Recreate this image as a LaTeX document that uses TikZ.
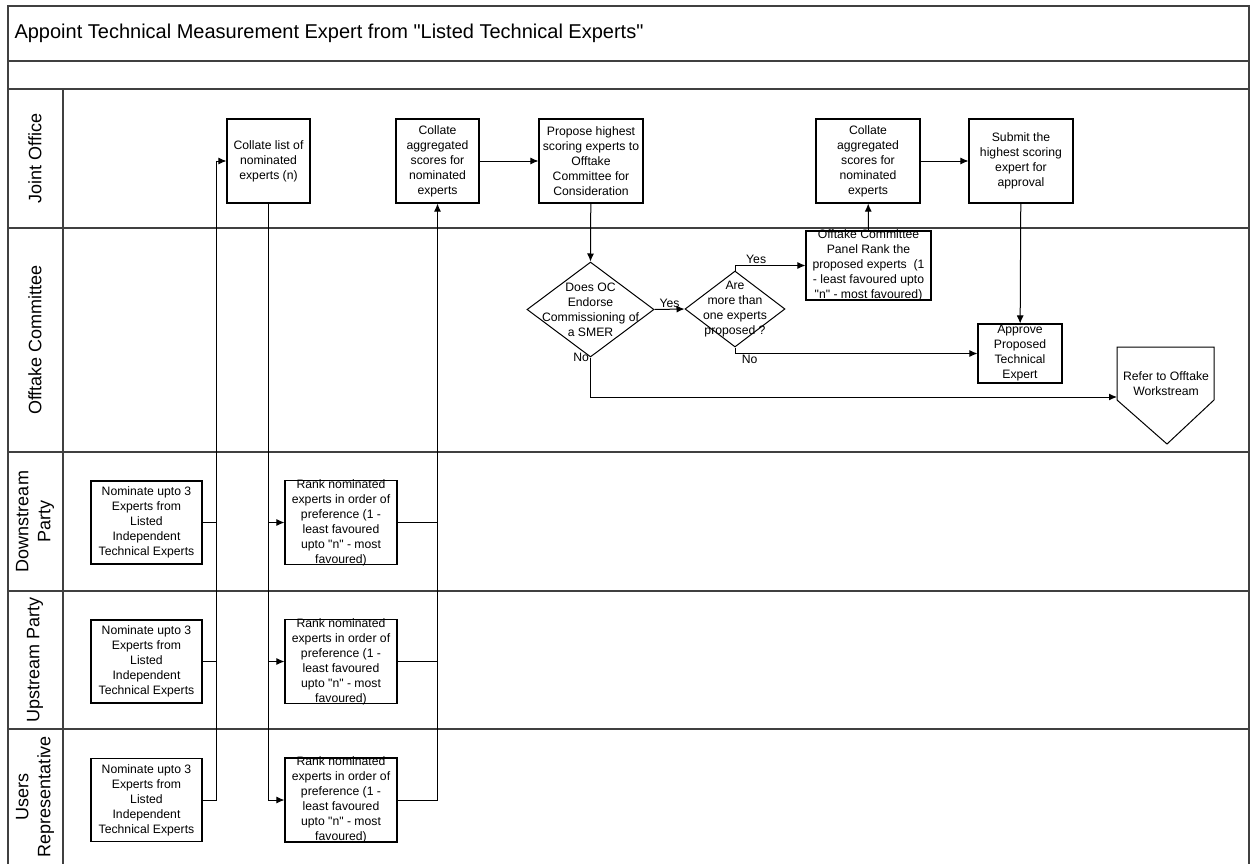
\documentclass[tikz,border=0pt]{standalone}
\usepackage{fontspec}
\setmainfont{Liberation Sans}[Ligatures=TeXOff]
\usetikzlibrary{arrows.meta,shapes.geometric}

\begin{document}
\begin{tikzpicture}[x=1pt,y=-1pt,
    box/.style={draw,line width=1.1pt,inner sep=0},
    dec/.style={draw,diamond,line width=1pt,inner sep=0},
    txt/.style={font=\fontsize{12.2}{15}\selectfont,align=center,inner sep=0},
    lane/.style={font=\fontsize{18}{22}\selectfont,align=center,rotate=90},
    con/.style={line width=1pt},
    arr/.style={con,-{Latex[length=8pt,width=7pt]}},
    lbl/.style={font=\fontsize{12.2}{14}\selectfont,inner sep=1pt}]
  \useasboundingbox (0,0) rectangle (1250,864);
  % pool and lanes
  \draw[line width=1.6pt,black!75] (8,864) -- (8,6) -- (1249,6) -- (1249,864);
  \foreach \y in {61,89,228,452,591,729}
    \draw[line width=1.6pt,black!75] (8,\y) -- (1249,\y);
  \draw[line width=1.6pt,black!75] (63,89) -- (63,864);
  \node[anchor=west,font=\fontsize{20}{24}\selectfont] (title) at (11,33) {Appoint Technical Measurement Expert from "Listed Technical Experts"};
  \node[lane] (jo) at (35,158.5) {Joint Office};
  \node[lane] (oc) at (35,340) {Offtake Committee};
  \node[lane] (ds) at (35,521.5) {Downstream\\Party};
  \node[lane] (us) at (35,660) {Upstream Party};
  \node[lane] (ur) at (35,796.5) {Users\\Representative};
  % joint office
  \node[box,minimum width=83pt,minimum height=84pt,label={[txt]center:Collate list of\\nominated\\experts (n)}] (C1) at (268.5,161) {};
  \node[box,minimum width=83pt,minimum height=84pt,label={[txt]center:Collate\\aggregated\\scores for\\nominated\\experts}] (C2) at (437.5,161) {};
  \node[box,minimum width=104pt,minimum height=84pt,label={[txt]center:Propose highest\\scoring experts to\\Offtake\\Committee for\\Consideration}] (P) at (591,161) {};
  \node[box,minimum width=104pt,minimum height=84pt,label={[txt]center:Collate\\aggregated\\scores for\\nominated\\experts}] (C3) at (868,161) {};
  \node[box,minimum width=104pt,minimum height=84pt,label={[txt]center:Submit the\\highest scoring\\expert for\\approval}] (S) at (1021,161) {};
  % offtake committee
  \node[dec,minimum width=127pt,minimum height=95pt,label={[txt]center:Does OC\\Endorse\\Commissioning of\\a SMER}] (D1) at (590.5,309.5) {};
  \node[dec,minimum width=100pt,minimum height=76pt,label={[txt]center:Are\\more than\\one experts\\proposed ?}] (D2) at (735,309) {};
  \node[box,minimum width=125pt,minimum height=69pt,label={[txt]center:Offtake Committee\\Panel Rank the\\proposed experts \ (1\\- least favoured upto\\"n" - most favoured)}] (R) at (868.5,265.5) {};
  \node[box,minimum width=84pt,minimum height=59pt,label={[txt]center:Approve\\Proposed\\Technical\\Expert}] (A) at (1020,353.5) {};
  \draw[con] (1117,347) -- (1214,347) -- (1214,400) -- (1167,444) -- (1117,400) -- cycle;
  \node[txt] (O) at (1166,384) {Refer to Offtake\\Workstream};
  \coordinate (Oin) at (1117,397);
  % parties
  \foreach \n/\y in {1/522.5,2/661.5,3/800} {
    \node[box,minimum width=111pt,minimum height=83pt,label={[txt]center:Nominate upto 3\\Experts from\\Listed\\Independent\\Technical Experts}] (N\n) at (146.5,\y) {};
    \node[box,minimum width=112pt,minimum height=84pt,label={[txt]center:Rank nominated\\experts in order of\\preference (1 -\\least favoured\\upto "n" - most\\favoured)}] (K\n) at (341,\y) {};
  }
  \coordinate (bus) at (216,161);
  % connectors
  \draw[arr] (N3.east) -| (bus) -- (C1.west);
  \draw[con] (N1.east) -- (N1.east -| bus);
  \draw[con] (N2.east) -- (N2.east -| bus);
  \draw[arr] (C1.south) |- (K3.west);
  \draw[arr] (K1.west -| C1.south) -- (K1.west);
  \draw[arr] (K2.west -| C1.south) -- (K2.west);
  \draw[arr] (K3.east) -| (C2.south);
  \draw[con] (K1.east) -- (K1.east -| C2.south);
  \draw[con] (K2.east) -- (K2.east -| C2.south);
  \draw[arr] (C2) -- (P);
  \draw[arr] (P) -- (D1.north);
  \draw[arr] (D1.east) -- node[lbl,above] {Yes} (D2.west);
  \draw[arr] (D1.south) |- node[lbl,pos=0,left] {No} (Oin);
  \draw[arr] (D2.north) |- node[lbl,pos=0.65,above] {Yes} (R.west);
  \draw[arr] (D2.south) |- node[lbl,pos=0.53,below] {No} (A.west);
  \draw[arr] (R) -- (C3);
  \draw[arr] (C3) -- (S);
  \draw[arr] (S) -- (A);
\end{tikzpicture}
\end{document}
